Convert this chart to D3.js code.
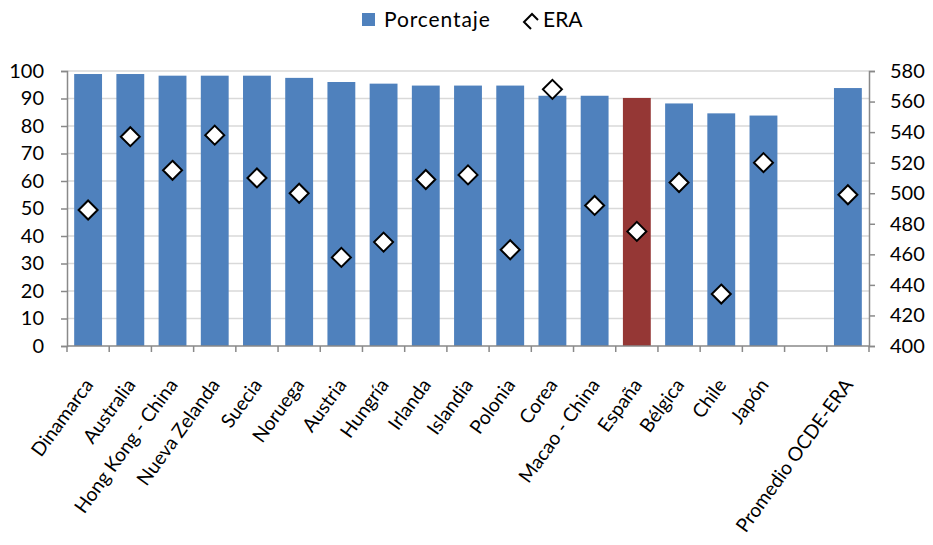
<!DOCTYPE html>
<html>
<head>
<meta charset="utf-8">
<script src="https://cdn.jsdelivr.net/npm/d3@7"></script>
<style>
body{margin:0;background:#fff;}
svg{font-family:Lato,"Liberation Sans",sans-serif;}
</style>
</head>
<body>
<svg id="chart" width="933" height="545"></svg>
<script>
const categories = ["Dinamarca","Australia","Hong Kong - China","Nueva Zelanda","Suecia","Noruega","Austria","Hungría","Irlanda","Islandia","Polonia","Corea","Macao - China","España","Bélgica","Chile","Japón","","Promedio OCDE-ERA"];
const porcentaje = [98.9,98.9,98.3,98.3,98.3,97.5,96.0,95.4,94.7,94.7,94.7,91.0,91.0,90.2,88.2,84.6,83.8,null,93.8];
const era = [489,537,515,538,510,500,458,468,509,512,463,568,492,475,507,434,520,null,499];
const highlight = ["España"];
const leftTicks = [0,10,20,30,40,50,60,70,80,90,100];
const rightTicks = [400,420,440,460,480,500,520,540,560,580];

const svg = d3.select("#chart");
const m = {left:67, right:869, top:71, bottom:346};

const x = d3.scaleBand().domain(d3.range(categories.length)).range([m.left, m.right]).paddingInner(0.34).paddingOuter(0.17);
const xb = d3.scaleBand().domain(d3.range(categories.length)).range([m.left, m.right]);
const yL = d3.scaleLinear().domain([0,100]).range([m.bottom, m.top]);
const yR = d3.scaleLinear().domain([400,580]).range([m.bottom, m.top]);

// gridlines
svg.append("g").selectAll("line").data(leftTicks.slice(1)).join("line")
  .attr("x1", m.left).attr("x2", m.right)
  .attr("y1", d=>yL(d)).attr("y2", d=>yL(d))
  .attr("stroke","#d9d9d9").attr("stroke-width",1.5);

// bars
svg.append("g").selectAll("rect").data(porcentaje.map((v,i)=>({v,i})).filter(d=>d.v!=null)).join("rect")
  .attr("x", d=>x(d.i)).attr("width", x.bandwidth())
  .attr("y", d=>yL(d.v)).attr("height", d=>yL(0)-yL(d.v))
  .attr("fill", d=>highlight.includes(categories[d.i]) ? "#953735" : "#4f81bd");

// axes
const axisColor = "#898989";
const gL = svg.append("g").attr("transform",`translate(${m.left},0)`)
  .call(d3.axisLeft(yL).tickValues(leftTicks).tickSize(6).tickPadding(17));
const gR = svg.append("g").attr("transform",`translate(${m.right},0)`)
  .call(d3.axisRight(yR).tickValues(rightTicks).tickSize(6).tickPadding(15));
[gL,gR].forEach(g=>{
  g.select(".domain").attr("stroke",axisColor).attr("stroke-width",1.5);
  g.selectAll(".tick line").attr("stroke",axisColor).attr("stroke-width",1.5);
  g.selectAll(".tick text").attr("font-size",20).attr("fill","#000").attr("font-family","Lato");
});

// x axis
svg.append("line").attr("x1",m.left).attr("x2",m.right).attr("y1",m.bottom).attr("y2",m.bottom)
  .attr("stroke",axisColor).attr("stroke-width",1.5);
svg.append("g").selectAll("line").data(d3.range(categories.length+1)).join("line")
  .attr("x1", d=>m.left + d*xb.bandwidth()).attr("x2", d=>m.left + d*xb.bandwidth())
  .attr("y1", m.bottom).attr("y2", m.bottom+6)
  .attr("stroke",axisColor).attr("stroke-width",1.5);

svg.append("g").selectAll("text").data(categories.map((c,i)=>({c,i}))).join("text")
  .attr("transform", d=>`translate(${xb(d.i)+xb.bandwidth()/2+6},${m.bottom+39}) rotate(-54)`)
  .attr("text-anchor","end").attr("font-size",19.3).attr("fill","#000")
  .text(d=>d.c);

// diamonds
const ds = 9.5;
const diamond = `M0,${-ds}L${ds},0L0,${ds}L${-ds},0Z`;
svg.append("g").selectAll("path").data(era.map((v,i)=>({v,i})).filter(d=>d.v!=null)).join("path")
  .attr("transform", d=>`translate(${xb(d.i)+xb.bandwidth()/2},${yR(d.v)})`)
  .attr("d", diamond).attr("fill","#fff").attr("stroke","#000").attr("stroke-width",2);

// legend
const lg = svg.append("g");
lg.append("rect").attr("x",362).attr("y",13).attr("width",13).attr("height",13).attr("fill","#4f81bd");
lg.append("text").attr("x",384).attr("y",27).attr("font-size",21).attr("letter-spacing",0.9).text("Porcentaje");
const lc = {x:532, y:22, r:8};
lg.append("path")
  .attr("d",`M${lc.x-1},${lc.y+lc.r-1}L${lc.x-lc.r},${lc.y}L${lc.x},${lc.y-lc.r}L${lc.x+6},${lc.y-lc.r+6}`)
  .attr("fill","none").attr("stroke","#000").attr("stroke-width",2);
lg.append("text").attr("x",543).attr("y",27).attr("font-size",21).text("ERA");
</script>
</body>
</html>
